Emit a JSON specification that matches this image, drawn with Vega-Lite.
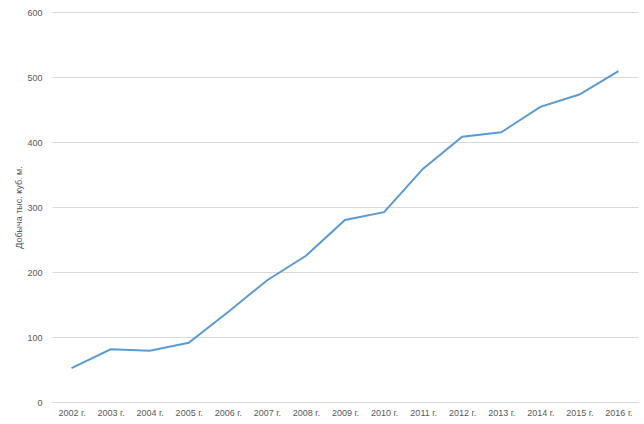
{
  "$schema": "https://vega.github.io/schema/vega-lite/v6.json",
  "autosize": "none",
  "width": 586,
  "height": 390,
  "padding": {"left": 52, "top": 12, "right": 6, "bottom": 22},
  "background": "white",
  "config": {"view": {"stroke": null}, "font": "Liberation Sans"},
  "data": {"values": [
    {"year": "2002 г.", "value": 52},
    {"year": "2003 г.", "value": 81},
    {"year": "2004 г.", "value": 79},
    {"year": "2005 г.", "value": 91},
    {"year": "2006 г.", "value": 138},
    {"year": "2007 г.", "value": 187},
    {"year": "2008 г.", "value": 225},
    {"year": "2009 г.", "value": 280},
    {"year": "2010 г.", "value": 292},
    {"year": "2011 г.", "value": 359},
    {"year": "2012 г.", "value": 408},
    {"year": "2013 г.", "value": 415},
    {"year": "2014 г.", "value": 454},
    {"year": "2015 г.", "value": 473},
    {"year": "2016 г.", "value": 509}
  ]},
  "mark": {"type": "line", "color": "#5b9bd5", "strokeWidth": 2},
  "encoding": {
    "x": {"field": "year", "type": "ordinal", "sort": null,
      "scale": {"type": "point", "padding": 0.5},
      "axis": {"title": null, "labelAngle": 0, "ticks": false, "grid": false,
        "domainColor": "#d9d9d9", "labelColor": "#595959", "labelFontSize": 9, "labelPadding": 6}},
    "y": {"field": "value", "type": "quantitative",
      "scale": {"domain": [0, 600], "nice": false},
      "axis": {"title": "Добыча тыс. куб. м.", "values": [0, 100, 200, 300, 400, 500, 600],
        "ticks": false, "domain": false, "gridColor": "#d9d9d9", "labelColor": "#595959",
        "labelFontSize": 9, "labelPadding": 10, "titleColor": "#595959", "titleFontSize": 9,
        "titleFontWeight": "normal", "titlePadding": 3}}
  }
}
